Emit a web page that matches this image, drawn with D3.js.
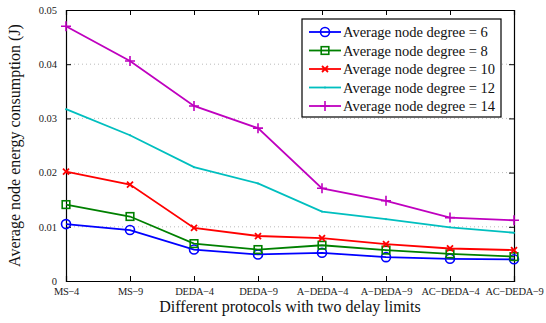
<!DOCTYPE html>
<html>
<head>
<meta charset="utf-8">
<script src="https://cdn.jsdelivr.net/npm/d3@7"></script>
<style>
body { margin: 0; background: #fff; }
text { font-family: "Liberation Serif", "Times New Roman", serif; }
</style>
</head>
<body>
<div id="chart"></div>
<script>
// protocols on x axis
const protocols = ["MS\u22124", "MS\u22129", "DEDA\u22124", "DEDA\u22129", "A\u2212DEDA\u22124", "A\u2212DEDA\u22129", "AC\u2212DEDA\u22124", "AC\u2212DEDA\u22129"];
const yTicks = [0, 0.01, 0.02, 0.03, 0.04, 0.05];

// energy per node degree
const deg6  = [0.0105, 0.0094, 0.0058, 0.0049, 0.0052, 0.0044, 0.0041, 0.0040];
const deg8  = [0.0141, 0.0119, 0.0069, 0.0058, 0.0066, 0.0057, 0.0050, 0.0045];
const deg10 = [0.0202, 0.0178, 0.0098, 0.0083, 0.0079, 0.0068, 0.0060, 0.0057];
const deg12 = [0.0317, 0.0269, 0.0210, 0.0180, 0.0128, 0.0114, 0.0099, 0.0089];
const deg14 = [0.0470, 0.0406, 0.0323, 0.0282, 0.0171, 0.0148, 0.0117, 0.0112];

const seriesNames = ["Average node degree = 6", "Average node degree = 8", "Average node degree = 10", "Average node degree = 12", "Average node degree = 14"];
const seriesColors = ["#0000ff", "#008000", "#ff0000", "#00bfbf", "#bf00bf"];
const seriesMarkers = ["circle", "square", "x", "point", "plus"];
const seriesData = [deg6, deg8, deg10, deg12, deg14];

const width = 546, height = 323;
const margin = {top: 10, right: 32, bottom: 42, left: 66};
const iw = width - margin.left - margin.right;
const ih = height - margin.top - margin.bottom;

const svg = d3.select("#chart").append("svg")
    .attr("width", width)
    .attr("height", height);

const g = svg.append("g").attr("transform", "translate(" + margin.left + "," + margin.top + ")");

const x = d3.scalePoint().domain(protocols).range([0, iw]);
const y = d3.scaleLinear().domain([0, 0.05]).range([ih, 0]);

// grid
g.append("g").selectAll("line")
    .data(yTicks.slice(1, -1))
    .enter().append("line")
    .attr("x1", 0).attr("x2", iw)
    .attr("y1", d => y(d)).attr("y2", d => y(d))
    .attr("stroke", "#aaa")
    .attr("stroke-width", 0.8)
    .attr("stroke-dasharray", "1,3");

// axes
const xAxis = g.append("g").attr("transform", "translate(0," + ih + ")")
    .call(d3.axisBottom(x).tickSize(-5).tickPadding(9));
const yAxis = g.append("g")
    .call(d3.axisLeft(y).tickValues(yTicks).tickSize(-5).tickPadding(9).tickFormat(d => d === 0 ? "0" : d3.format(".2f")(d)));
const xTop = g.append("g")
    .call(d3.axisTop(x).tickSize(-5).tickFormat(""));
const yRight = g.append("g").attr("transform", "translate(" + iw + ",0)")
    .call(d3.axisRight(y).tickValues(yTicks).tickSize(-5).tickFormat(""));

[xAxis, yAxis, xTop, yRight].forEach(a => {
  a.select(".domain").attr("stroke", "#000").attr("stroke-width", 1.2);
  a.selectAll(".tick line").attr("stroke", "#000");
  a.selectAll("text").attr("font-size", 10.5).attr("fill", "#222");
});
xAxis.selectAll(".tick text").attr("dy", "0.5em").attr("letter-spacing", "-0.3");

// lines
const line = d3.line().x((d, i) => x(protocols[i])).y(d => y(d));

function drawMarker(sel, type, color) {
  if (type === "circle") {
    sel.append("circle").attr("r", 4.5).attr("fill", "none").attr("stroke", color).attr("stroke-width", 1.6);
  } else if (type === "square") {
    sel.append("rect").attr("x", -3.8).attr("y", -3.8).attr("width", 7.6).attr("height", 7.6)
      .attr("fill", "none").attr("stroke", color).attr("stroke-width", 1.6);
  } else if (type === "x") {
    sel.append("path").attr("d", "M-3,-3L3,3M-3,3L3,-3").attr("stroke", color).attr("stroke-width", 1.8);
  } else if (type === "point") {
    sel.append("circle").attr("r", 1).attr("fill", color);
  } else if (type === "plus") {
    sel.append("path").attr("d", "M-5,0L5,0M0,-5L0,5").attr("stroke", color).attr("stroke-width", 1.6);
  }
}

seriesData.forEach(function(vals, k) {
  g.append("path")
    .datum(vals)
    .attr("d", line)
    .attr("fill", "none")
    .attr("stroke", seriesColors[k])
    .attr("stroke-width", 1.8);
  vals.forEach(function(v, i) {
    const m = g.append("g").attr("transform", "translate(" + x(protocols[i]) + "," + y(v) + ")");
    drawMarker(m, seriesMarkers[k], seriesColors[k]);
  });
});

// legend
const lg = svg.append("g").attr("transform", "translate(302,19)");
lg.append("rect").attr("width", 199).attr("height", 98)
  .attr("fill", "#fff").attr("stroke", "#000").attr("stroke-width", 1.2);
seriesNames.forEach(function(name, k) {
  const row = lg.append("g").attr("transform", "translate(0," + (13 + k * 18.5) + ")");
  row.append("line").attr("x1", 7).attr("x2", 39).attr("y1", 0).attr("y2", 0)
    .attr("stroke", seriesColors[k]).attr("stroke-width", 1.8);
  const m = row.append("g").attr("transform", "translate(23,0)");
  drawMarker(m, seriesMarkers[k], seriesColors[k]);
  row.append("text").attr("x", 41).attr("y", 0).attr("dy", "0.35em")
    .attr("font-size", 14.5).attr("fill", "#111").text(name);
});

// titles
svg.append("text")
  .attr("x", 290).attr("y", 312)
  .attr("text-anchor", "middle").attr("font-size", 16).attr("fill", "#111")
  .text("Different protocols with two delay limits");

svg.append("text")
  .attr("transform", "translate(20," + (margin.top + ih / 2) + ") rotate(-90)")
  .attr("text-anchor", "middle").attr("font-size", 16).attr("fill", "#111")
  .text("Average node energy consumption (J)");
</script>
</body>
</html>
